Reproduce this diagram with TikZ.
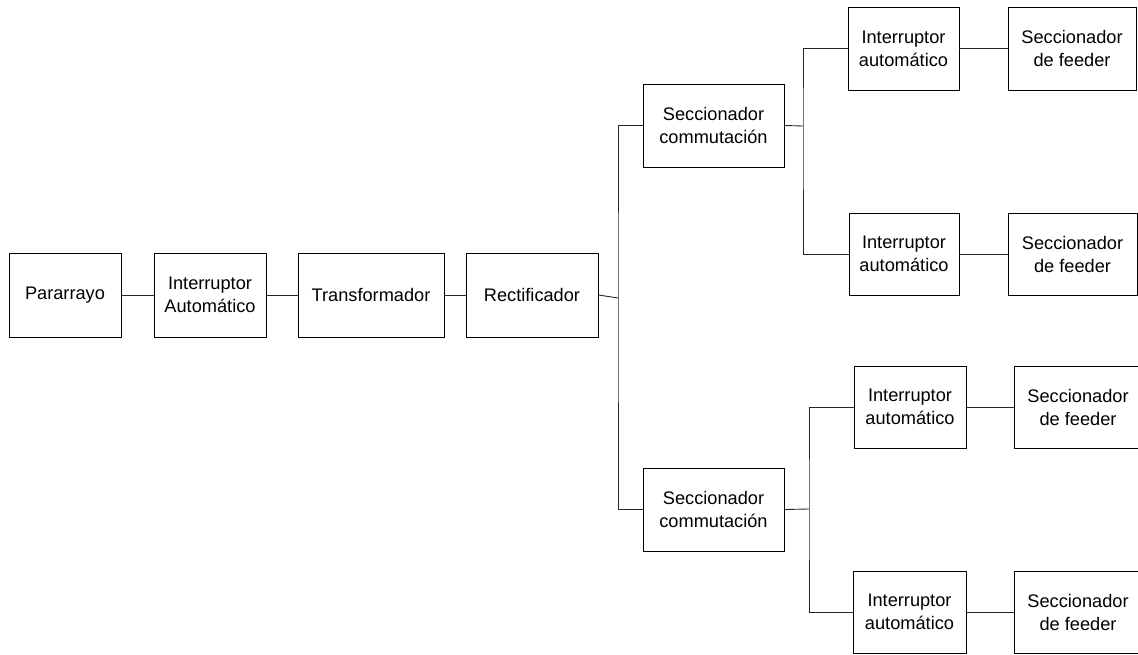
\documentclass[tikz,border=0pt]{standalone}
\usepackage{fontspec}
\setmainfont{Liberation Sans}
\begin{document}
\begin{tikzpicture}[x=1pt,y=-1pt,
  blk/.style={draw=black, line width=0.9pt, rectangle, inner sep=0pt,
    align=center, font=\fontsize{18.2}{23}\selectfont},
  wire/.style={draw=black!85, line width=0.9pt}]
\useasboundingbox (0,0) rectangle (1138,655);

% main chain
\node[blk, minimum width=112pt, minimum height=84pt] (par) at (65,295) {Pararrayo};
\node[blk, minimum width=112pt, minimum height=84pt] (ia)  at (210,295) {Interruptor\\Automático};
\node[blk, minimum width=146pt, minimum height=84pt] (tr)  at (371,295) {Transformador};
\node[blk, minimum width=132pt, minimum height=84pt] (rec) at (532,295) {Rectificador};

% switching disconnectors
\node[blk, minimum width=141pt, minimum height=83pt] (sc1) at (713.5,125.5) {Seccionador\\commutación};
\node[blk, minimum width=141pt, minimum height=83pt] (sc2) at (713.5,509.5) {Seccionador\\commutación};

% breakers and feeder disconnectors
\node[blk, minimum width=111pt, minimum height=83pt] (ia1) at (903.5,48.5) {Interruptor\\automático};
\node[blk, minimum width=128pt, minimum height=83pt] (sf1) at (1072,48.5) {Seccionador\\de feeder};
\node[blk, minimum width=110pt, minimum height=82pt] (ia2) at (904,254) {Interruptor\\automático};
\node[blk, minimum width=129pt, minimum height=82pt] (sf2) at (1072.5,254) {Seccionador\\de feeder};
\node[blk, minimum width=112pt, minimum height=82pt] (ia3) at (910,407) {Interruptor\\automático};
\node[blk, minimum width=128pt, minimum height=82pt] (sf3) at (1078,407) {Seccionador\\de feeder};
\node[blk, minimum width=113pt, minimum height=82pt] (ia4) at (909.5,612) {Interruptor\\automático};
\node[blk, minimum width=128pt, minimum height=82pt] (sf4) at (1078,612) {Seccionador\\de feeder};

% bus junctions
\coordinate (b0) at (618,298);
\coordinate (b1) at (803,126);
\coordinate (b2) at (809,509);

% connections
\draw[wire] (par.east) -- (ia.west);
\draw[wire] (ia.east) -- (tr.west);
\draw[wire] (tr.east) -- (rec.west);
\draw[wire] (rec.east) -- (b0);
\draw[wire] (sc1.west) -| (b0) |- (sc2.west);

\draw[wire] (sc1.east) -- (b1);
\draw[wire] (ia1.west) -| (b1) |- (ia2.west);
\draw[wire] (sc2.east) -- (b2);
\draw[wire] (ia3.west) -| (b2) |- (ia4.west);

\draw[wire] (ia1.east) -- (sf1.west);
\draw[wire] (ia2.east) -- (sf2.west);
\draw[wire] (ia3.east) -- (sf3.west);
\draw[wire] (ia4.east) -- (sf4.west);
\end{tikzpicture}
\end{document}
